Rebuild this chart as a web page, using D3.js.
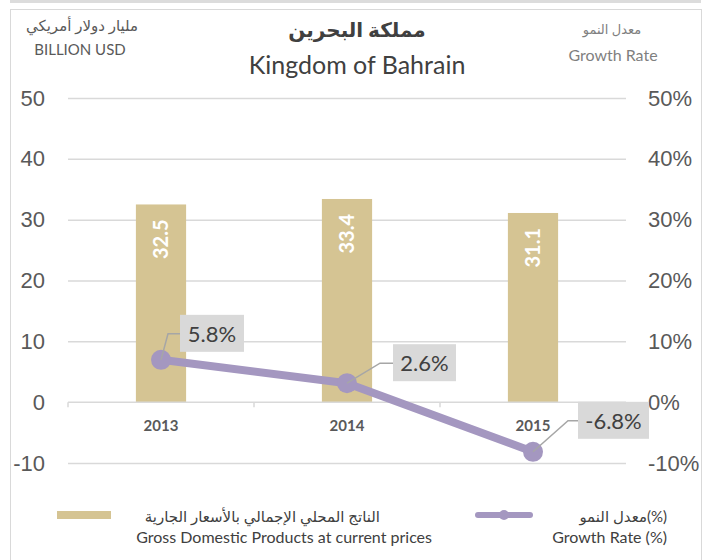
<!DOCTYPE html>
<html>
<head>
<meta charset="utf-8">
<script src="https://cdn.jsdelivr.net/npm/d3@7.9.0/dist/d3.min.js"></script>
<style>
  body { margin: 0; background: #fff; }
  svg { display: block; font-family: Lato, "DejaVu Sans", sans-serif; }
</style>
</head>
<body>
<div id="chart"></div>
<script>
const years = ['2013', '2014', '2015'];
const gdp = [32.5, 33.4, 31.1];
const growth = [5.8, 2.6, -6.8];
const growthLabels = ['5.8%', '2.6%', '-6.8%'];
const leftTicks = [-10, 0, 10, 20, 30, 40, 50];
const rightTicks = [-0.1, 0, 0.1, 0.2, 0.3, 0.4, 0.5];

const width = 713;
const height = 560;
const margin = { top: 98, right: 87, bottom: 97, left: 68 }; // plot area 68..626 x 98..463

const svg = d3.select('#chart')
  .append('svg')
  .attr('width', width)
  .attr('height', height);

// frame like the original slide
svg.append('rect')
  .attr('x', 10).attr('y', 0).attr('width', 691).attr('height', 3)
  .attr('fill', '#dcdcdc');
svg.append('rect')
  .attr('x', 10.5).attr('y', 9.5).attr('width', 691).attr('height', 570)
  .attr('fill', 'none').attr('stroke', '#d9d9d9');

const xScale = d3.scaleBand()
  .domain(years)
  .range([margin.left, width - margin.right])
  .paddingInner(0.73)
  .paddingOuter(0.365);

const yScale = d3.scaleLinear()
  .domain([-10, 50])
  .range([height - margin.bottom, margin.top]);

const rightScale = d3.scaleLinear()
  .domain([-0.1, 0.5])
  .range([height - margin.bottom, margin.top]);

// the plotted markers sit on a secondary scale that is a bit stretched vs. its labels
const growthScale = d3.scaleLinear()
  .domain([-10 / 1.2, 50 / 1.2])
  .range([height - margin.bottom, margin.top]);

const hyphen = (s) => s.replace('\u2212', '-');

// gridlines
svg.append('g')
  .attr('class', 'gridlines')
  .attr('transform', `translate(${margin.left}, 0)`)
  .call(d3.axisLeft(yScale)
    .tickValues(leftTicks.filter(d => d !== 0))
    .tickSize(-(width - margin.left - margin.right))
    .tickFormat(''))
  .call(g => g.select('.domain').remove())
  .call(g => g.selectAll('line').attr('stroke', '#d9d9d9').attr('stroke-width', 1.5));

// left axis labels
svg.append('g')
  .attr('transform', `translate(45, 0)`)
  .call(d3.axisLeft(yScale).tickValues(leftTicks).tickSize(0).tickPadding(0)
    .tickFormat(d => hyphen(d3.format('d')(d))))
  .call(g => g.select('.domain').remove())
  .call(g => g.selectAll('text')
    .attr('fill', '#595959')
    .style('font-size', '22px'));

// right axis labels
svg.append('g')
  .attr('transform', `translate(648, 0)`)
  .call(d3.axisRight(rightScale).tickValues(rightTicks).tickSize(0).tickPadding(0)
    .tickFormat(d => hyphen(d3.format('.0%')(d))))
  .call(g => g.select('.domain').remove())
  .call(g => g.selectAll('text')
    .attr('fill', '#595959')
    .style('font-size', '22px'));

// bars
svg.append('g')
  .selectAll('rect')
  .data(years)
  .join('rect')
  .attr('x', d => xScale(d))
  .attr('y', (d, i) => yScale(gdp[i]))
  .attr('width', xScale.bandwidth())
  .attr('height', (d, i) => yScale(0) - yScale(gdp[i]))
  .attr('fill', '#d5c493');

// bar value labels (rotated)
svg.append('g')
  .selectAll('text')
  .data(years)
  .join('text')
  .attr('transform', (d, i) => `translate(${xScale(d) + xScale.bandwidth() / 2}, ${yScale(gdp[i]) + 15}) rotate(-90)`)
  .attr('text-anchor', 'end')
  .attr('dy', '0.36em')
  .attr('fill', '#fff')
  .style('font-size', '20px')
  .style('font-weight', 'bold')
  .text((d, i) => gdp[i].toFixed(1));

// zero baseline with category ticks
const xAxis = svg.append('g')
  .attr('transform', `translate(0, ${yScale(0)})`);
xAxis.append('line')
  .attr('x1', margin.left).attr('x2', width - margin.right)
  .attr('stroke', '#d9d9d9').attr('stroke-width', 1.5);
const step = xScale.step();
xAxis.selectAll('.tick-mark')
  .data(d3.range(years.length + 1))
  .join('line')
  .attr('class', 'tick-mark')
  .attr('x1', i => margin.left + i * step)
  .attr('x2', i => margin.left + i * step)
  .attr('y1', 0).attr('y2', 5)
  .attr('stroke', '#d9d9d9').attr('stroke-width', 1.5);
xAxis.selectAll('.year')
  .data(years)
  .join('text')
  .attr('class', 'year')
  .attr('x', d => xScale(d) + xScale.bandwidth() / 2)
  .attr('y', 29)
  .attr('text-anchor', 'middle')
  .attr('fill', '#595959')
  .style('font-size', '15px')
  .style('font-weight', 'bold')
  .text(d => d);

// growth line
const cx = (d) => xScale(d) + xScale.bandwidth() / 2;
const line = d3.line()
  .x((d, i) => cx(years[i]))
  .y(d => growthScale(d));

svg.append('path')
  .datum(growth)
  .attr('d', line)
  .attr('fill', 'none')
  .attr('stroke', '#a497c0')
  .attr('stroke-width', 8)
  .attr('stroke-linejoin', 'round');

svg.append('g')
  .selectAll('circle')
  .data(growth)
  .join('circle')
  .attr('cx', (d, i) => cx(years[i]))
  .attr('cy', d => growthScale(d))
  .attr('r', 10)
  .attr('fill', '#a497c0');

// data label callouts
const labelOffsets = [
  { dx: 7, dy: -26, boxX: 19, w: 64 },
  { dx: 33, dy: -20, boxX: 46, w: 63 },
  { dx: 35, dy: -31, boxX: 45, w: 71 }
];
const callouts = svg.append('g')
  .selectAll('g')
  .data(growth)
  .join('g')
  .attr('transform', (d, i) => `translate(${cx(years[i])}, ${growthScale(d)})`);

callouts.append('polyline')
  .attr('points', (d, i) => {
    const o = labelOffsets[i];
    return `0,0 ${o.dx},${o.dy} ${o.boxX},${o.dy}`;
  })
  .attr('fill', 'none')
  .attr('stroke', '#a6a6a6')
  .attr('stroke-width', 1.5);

callouts.append('rect')
  .attr('x', (d, i) => labelOffsets[i].boxX)
  .attr('y', (d, i) => labelOffsets[i].dy - 19)
  .attr('width', (d, i) => labelOffsets[i].w)
  .attr('height', 37)
  .attr('fill', '#d9d9d9');

callouts.append('text')
  .attr('x', (d, i) => labelOffsets[i].boxX + labelOffsets[i].w / 2)
  .attr('y', (d, i) => labelOffsets[i].dy)
  .attr('dy', '0.36em')
  .attr('text-anchor', 'middle')
  .attr('fill', '#404040')
  .style('font-size', '22px')
  .text((d, i) => growthLabels[i]);

// titles
const titles = svg.append('g').attr('fill', '#404040');
titles.append('text')
  .attr('x', 357).attr('y', 37)
  .attr('text-anchor', 'middle')
  .style('font-size', '20px').style('font-weight', 'bold')
  .text('مملكة البحرين');
titles.append('text')
  .attr('x', 357).attr('y', 74)
  .attr('text-anchor', 'middle')
  .style('font-size', '25px')
  .text('Kingdom of Bahrain');

const units = svg.append('g').attr('fill', '#595959');
units.append('text')
  .attr('x', 82).attr('y', 31).attr('text-anchor', 'middle')
  .style('font-size', '15px')
  .text('مليار دولار أمريكي');
units.append('text')
  .attr('x', 80).attr('y', 55).attr('text-anchor', 'middle')
  .style('font-size', '15px')
  .text('BILLION USD');
units.append('text')
  .attr('x', 612).attr('y', 34).attr('text-anchor', 'middle')
  .attr('fill', '#7f7f7f')
  .style('font-size', '13px')
  .text('معدل النمو');
units.append('text')
  .attr('x', 613).attr('y', 61).attr('text-anchor', 'middle')
  .attr('fill', '#7f7f7f')
  .style('font-size', '16px')
  .text('Growth Rate');

// legend
const legend = svg.append('g').attr('fill', '#404040');
legend.append('rect')
  .attr('x', 57).attr('y', 511).attr('width', 54).attr('height', 8)
  .attr('fill', '#d5c493');
legend.append('text')
  .attr('x', 380).attr('y', 522).attr('text-anchor', 'end')
  .style('font-size', '15px')
  .text('الناتج المحلي الإجمالي بالأسعار الجارية');
legend.append('text')
  .attr('x', 432).attr('y', 543).attr('text-anchor', 'end')
  .style('font-size', '16px')
  .text('Gross Domestic Products at current prices');
legend.append('line')
  .attr('x1', 478).attr('x2', 530).attr('y1', 515).attr('y2', 515)
  .attr('stroke', '#a497c0').attr('stroke-width', 6).attr('stroke-linecap', 'round');
legend.append('circle')
  .attr('cx', 504).attr('cy', 515).attr('r', 5)
  .attr('fill', '#a497c0');
legend.append('text')
  .attr('x', 667).attr('y', 522).attr('text-anchor', 'end')
  .style('font-size', '15px')
  .text('معدل النمو(%)');
legend.append('text')
  .attr('x', 667).attr('y', 543).attr('text-anchor', 'end')
  .style('font-size', '16px')
  .text('Growth Rate (%)');
</script>
</body>
</html>
